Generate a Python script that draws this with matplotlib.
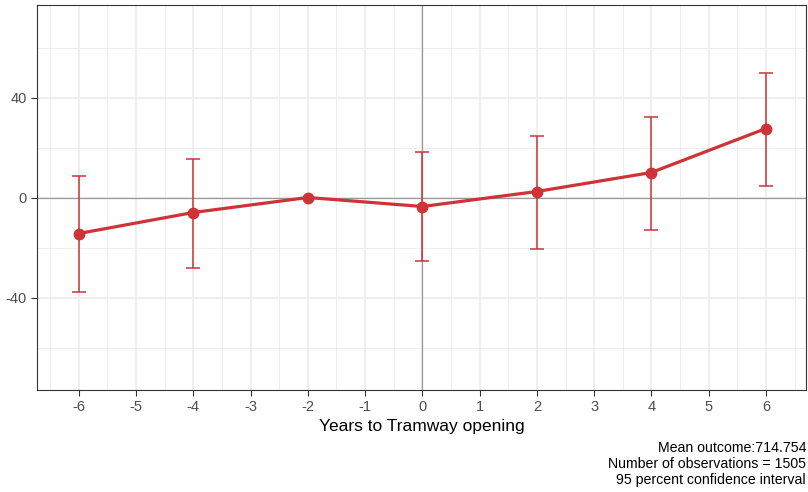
import numpy as np
import matplotlib.pyplot as plt

plt.rcParams['font.family'] = ['Liberation Sans', 'DejaVu Sans']
plt.rcParams['axes.unicode_minus'] = False

years = [-6, -4, -2, 0, 2, 4, 6]
estimate = [-14.4, -6.0, 0.0, -3.6, 2.4, 10.0, 27.6]
ci_low = [-37.6, -28.0, 0.0, -25.2, -20.4, -12.8, 4.8]
ci_high = [8.8, 15.6, 0.0, 18.4, 24.8, 32.4, 50.0]

x_ticks = list(range(-6, 7))
y_ticks = [-40, 0, 40]

red = '#CD3337'

fig = plt.figure(figsize=(8.08, 4.92), dpi=100)
ax = fig.add_axes([37 / 808, 1 - 390 / 492, (806 - 37) / 808, (390 - 5) / 492])

ax.set_xlim(-6.73, 6.70)
ax.set_ylim(-77, 77)

# grid
for v in np.arange(-6.5, 7, 0.5):
    ax.axvline(v, color='#EBEBEB', lw=0.6 if v % 1 else 1.1, zorder=0)
for h in [-60, -20, 20, 60]:
    ax.axhline(h, color='#EBEBEB', lw=0.6, zorder=0)
for h in y_ticks:
    ax.axhline(h, color='#EBEBEB', lw=1.1, zorder=0)

ax.axhline(0, color='#999999', lw=0.9, zorder=1)
ax.axvline(0, color='#999999', lw=0.9, zorder=1)

est = np.array(estimate)
lo = est - np.array(ci_low)
hi = np.array(ci_high) - est
mask = (lo > 0) | (hi > 0)
yrs = np.array(years)
ax.errorbar(yrs[mask], est[mask], yerr=[lo[mask], hi[mask]], fmt='none',
            ecolor=red, elinewidth=1.1, capsize=4.8, capthick=1.1, zorder=2)
ax.plot(years, estimate, color=red, lw=2.3, marker='o', markersize=7.5, zorder=3)

ax.set_xticks(x_ticks)
ax.set_xticklabels([str(t) for t in x_ticks])
ax.set_yticks(y_ticks)
ax.tick_params(colors='#333333', labelcolor='#4D4D4D', labelsize=10.5, length=4, width=0.8)
for s in ax.spines.values():
    s.set_color('#333333')
    s.set_linewidth(0.8)

ax.set_xlabel('Years to Tramway opening', fontsize=12.5, color='black', labelpad=3)

fig.text(806 / 808, 1 - 441 / 492,
         'Mean outcome:714.754\nNumber of observations = 1505\n95 percent confidence interval',
         ha='right', va='top', fontsize=10.2, linespacing=1.2, color='black')

fig.savefig('out.png', dpi=100)
